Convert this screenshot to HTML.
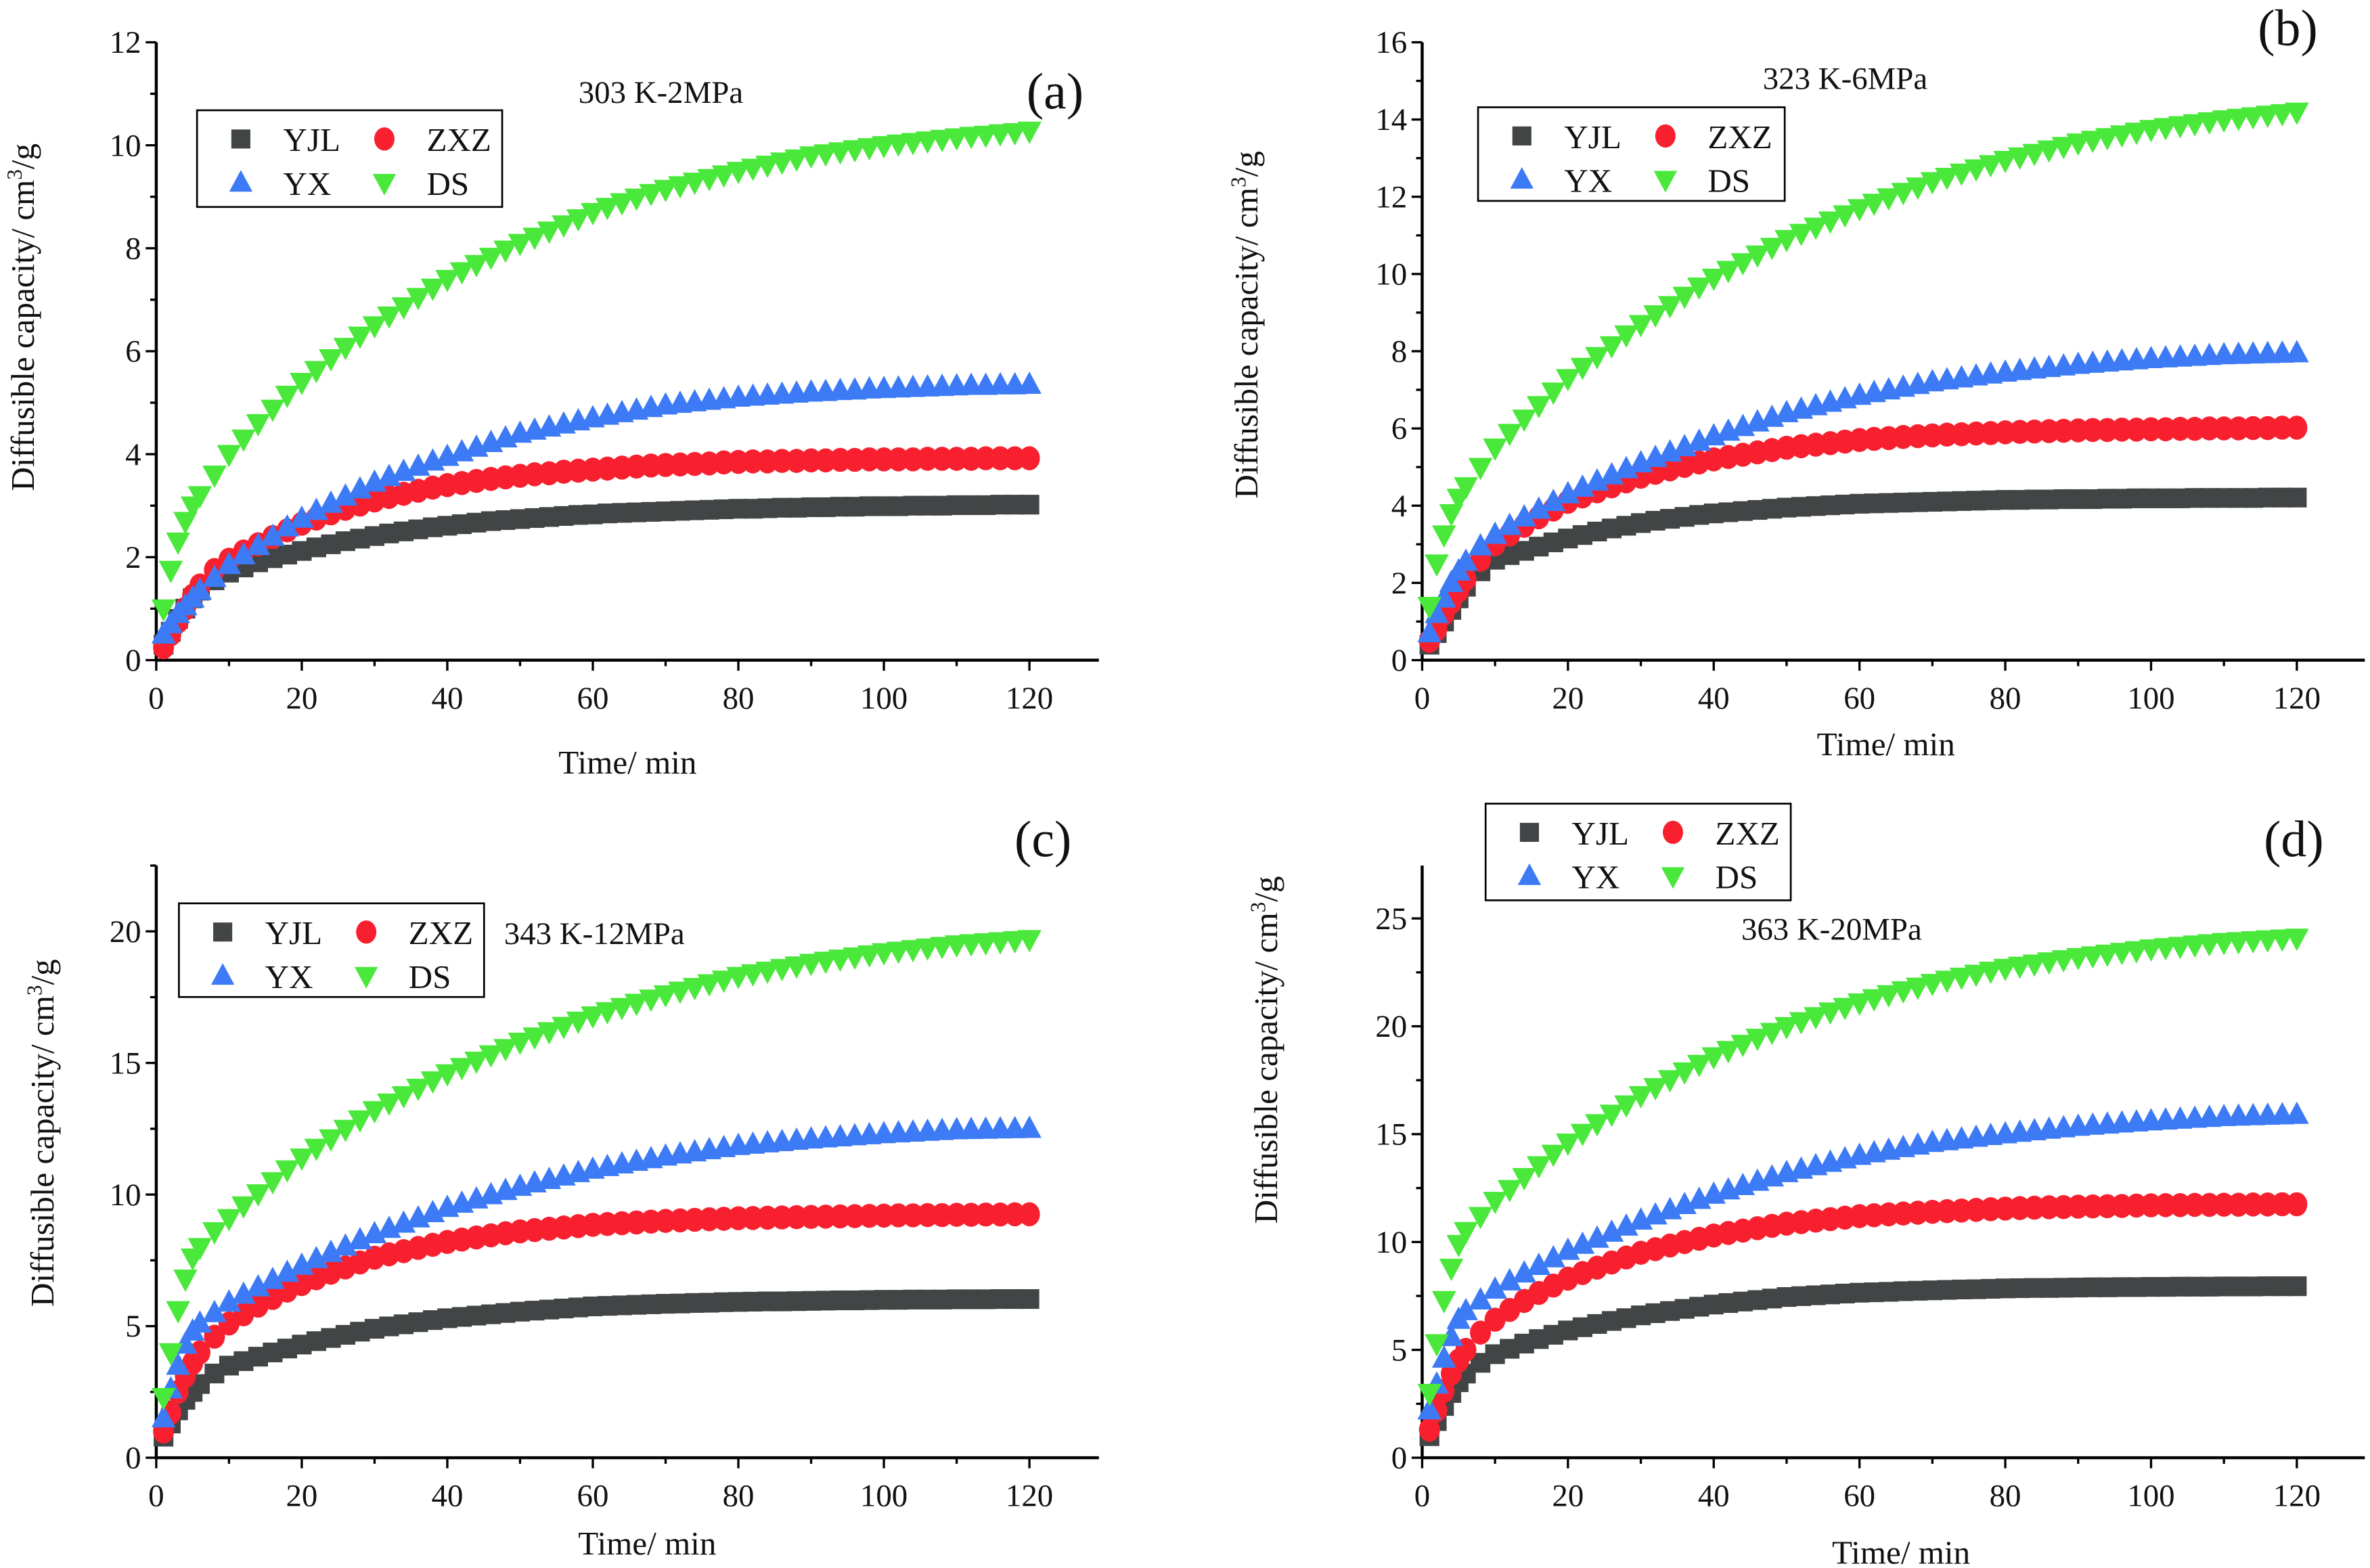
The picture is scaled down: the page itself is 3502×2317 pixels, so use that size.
<!DOCTYPE html>
<html><head><meta charset="utf-8"><style>
html,body{margin:0;padding:0;background:#fff}
svg{display:block}
text{font-family:"Liberation Serif",serif;fill:#111}
</style></head><body>
<svg id="fig" width="3502" height="2317" viewBox="0 0 1568 1038" xmlns="http://www.w3.org/2000/svg"></svg>
<script>
const times = [1,2,3,4,5,6,8,10,12,14,16,18,20,22,24,26,28,30,32,34,36,38,40,42,44,46,48,50,52,54,56,58,60,62,64,66,68,70,72,74,76,78,80,82,84,86,88,90,92,94,96,98,100,102,104,106,108,110,112,114,116,118,120];
const seriesNames = ["YJL","ZXZ","YX","DS"];
const xTicks = [0,20,40,60,80,100,120];

const aYJL = [0.3,0.55,0.8,1.0,1.2,1.35,1.55,1.7,1.8,1.9,1.98,2.05,2.12,2.19,2.25,2.31,2.36,2.41,2.46,2.5,2.54,2.58,2.61,2.64,2.67,2.7,2.72,2.74,2.76,2.78,2.8,2.82,2.83,2.85,2.86,2.87,2.88,2.89,2.9,2.91,2.92,2.93,2.94,2.94,2.95,2.96,2.96,2.97,2.97,2.98,2.98,2.99,2.99,2.99,3.0,3.0,3.0,3.01,3.01,3.01,3.02,3.02,3.02];
const aZXZ = [0.25,0.5,0.75,1.0,1.25,1.45,1.75,1.95,2.11,2.25,2.39,2.52,2.65,2.75,2.85,2.94,3.02,3.1,3.17,3.23,3.29,3.35,3.4,3.44,3.48,3.52,3.55,3.58,3.61,3.63,3.66,3.68,3.7,3.72,3.74,3.76,3.78,3.79,3.8,3.81,3.82,3.84,3.85,3.86,3.86,3.87,3.87,3.88,3.88,3.89,3.89,3.9,3.9,3.9,3.9,3.91,3.91,3.91,3.91,3.92,3.92,3.92,3.92];
const aYX = [0.5,0.7,0.9,1.05,1.2,1.35,1.6,1.85,2.04,2.22,2.4,2.58,2.75,2.9,3.04,3.18,3.32,3.45,3.56,3.66,3.76,3.86,3.95,4.04,4.13,4.22,4.31,4.4,4.46,4.52,4.58,4.64,4.7,4.75,4.8,4.85,4.9,4.95,4.98,5.01,5.04,5.07,5.1,5.12,5.14,5.16,5.18,5.2,5.21,5.23,5.24,5.26,5.27,5.28,5.29,5.3,5.31,5.32,5.33,5.33,5.34,5.34,5.35];
const aDS = [1.0,1.75,2.3,2.7,3.0,3.2,3.6,4.0,4.3,4.6,4.88,5.15,5.4,5.63,5.86,6.08,6.3,6.5,6.69,6.87,7.05,7.23,7.4,7.55,7.69,7.83,7.97,8.1,8.22,8.34,8.46,8.58,8.7,8.8,8.89,8.98,9.07,9.15,9.22,9.29,9.36,9.43,9.5,9.56,9.62,9.68,9.74,9.8,9.84,9.88,9.92,9.96,10.0,10.03,10.06,10.09,10.12,10.15,10.18,10.2,10.23,10.25,10.28];

const bYJL = [0.4,0.7,1.0,1.3,1.6,1.9,2.3,2.6,2.72,2.83,2.94,3.05,3.15,3.24,3.33,3.41,3.48,3.55,3.61,3.66,3.71,3.76,3.8,3.83,3.86,3.89,3.92,3.95,3.97,3.99,4.01,4.03,4.05,4.06,4.07,4.08,4.09,4.1,4.11,4.12,4.13,4.14,4.15,4.15,4.16,4.16,4.17,4.17,4.17,4.18,4.18,4.19,4.19,4.19,4.19,4.2,4.2,4.2,4.2,4.2,4.21,4.21,4.21];
const bZXZ = [0.5,0.8,1.2,1.5,1.8,2.1,2.6,3.0,3.25,3.48,3.7,3.9,4.1,4.24,4.37,4.5,4.63,4.75,4.85,4.94,5.03,5.12,5.2,5.26,5.32,5.38,5.44,5.5,5.54,5.58,5.62,5.66,5.7,5.73,5.75,5.78,5.8,5.82,5.84,5.85,5.87,5.88,5.9,5.91,5.92,5.93,5.94,5.95,5.96,5.96,5.97,5.97,5.98,5.98,5.99,5.99,6.0,6.0,6.0,6.01,6.01,6.02,6.02];
const bYX = [0.7,1.2,1.6,2.0,2.3,2.55,2.95,3.25,3.48,3.7,3.9,4.1,4.3,4.47,4.63,4.79,4.95,5.1,5.24,5.38,5.52,5.66,5.8,5.92,6.04,6.16,6.28,6.4,6.49,6.58,6.67,6.76,6.85,6.92,6.99,7.06,7.13,7.2,7.25,7.3,7.35,7.4,7.45,7.49,7.53,7.57,7.61,7.65,7.68,7.71,7.74,7.77,7.8,7.82,7.84,7.86,7.88,7.9,7.91,7.92,7.93,7.94,7.95];
const bDS = [1.4,2.5,3.25,3.8,4.2,4.5,5.0,5.5,5.88,6.25,6.6,6.95,7.3,7.59,7.87,8.15,8.43,8.7,8.95,9.19,9.43,9.67,9.9,10.1,10.3,10.5,10.7,10.9,11.06,11.22,11.38,11.54,11.7,11.84,11.98,12.12,12.26,12.4,12.51,12.62,12.73,12.84,12.95,13.04,13.13,13.22,13.31,13.4,13.47,13.54,13.61,13.68,13.75,13.8,13.85,13.9,13.95,14.0,14.04,14.08,14.12,14.16,14.2];

const cYJL = [0.8,1.3,1.8,2.2,2.5,2.8,3.2,3.5,3.67,3.84,4.0,4.15,4.3,4.43,4.55,4.67,4.79,4.9,4.99,5.07,5.15,5.23,5.3,5.35,5.4,5.45,5.5,5.55,5.59,5.63,5.67,5.71,5.75,5.77,5.79,5.81,5.83,5.85,5.86,5.88,5.89,5.91,5.92,5.93,5.94,5.94,5.95,5.96,5.97,5.98,5.98,5.99,6.0,6.0,6.01,6.01,6.01,6.02,6.02,6.02,6.03,6.03,6.03];
const cZXZ = [1.0,1.7,2.5,3.1,3.6,4.0,4.6,5.1,5.45,5.78,6.07,6.35,6.6,6.82,7.03,7.23,7.42,7.6,7.73,7.85,7.97,8.09,8.2,8.29,8.37,8.45,8.53,8.6,8.65,8.7,8.75,8.8,8.85,8.88,8.91,8.94,8.97,9.0,9.02,9.04,9.06,9.08,9.1,9.11,9.12,9.13,9.14,9.15,9.16,9.17,9.18,9.19,9.2,9.21,9.21,9.22,9.22,9.23,9.23,9.24,9.24,9.25,9.25];
const cYX = [1.5,2.6,3.5,4.3,4.8,5.1,5.5,5.9,6.2,6.48,6.76,7.03,7.3,7.55,7.79,8.03,8.27,8.5,8.7,8.9,9.1,9.3,9.5,9.66,9.82,9.98,10.14,10.3,10.43,10.56,10.69,10.82,10.95,11.05,11.15,11.25,11.35,11.45,11.53,11.61,11.69,11.77,11.85,11.9,11.95,12.0,12.05,12.1,12.14,12.18,12.22,12.26,12.3,12.33,12.36,12.39,12.42,12.45,12.46,12.47,12.48,12.49,12.5];
const cDS = [2.3,4.0,5.6,6.8,7.6,8.0,8.6,9.1,9.58,10.04,10.5,10.95,11.4,11.77,12.13,12.49,12.85,13.2,13.49,13.77,14.05,14.33,14.6,14.84,15.08,15.32,15.56,15.8,16.0,16.2,16.4,16.6,16.8,16.96,17.12,17.28,17.44,17.6,17.74,17.88,18.02,18.16,18.3,18.4,18.5,18.6,18.7,18.8,18.88,18.96,19.04,19.12,19.2,19.26,19.32,19.38,19.44,19.5,19.54,19.58,19.62,19.66,19.7];

const dYJL = [1.0,1.7,2.4,3.0,3.5,3.9,4.4,4.8,5.05,5.29,5.5,5.7,5.9,6.05,6.2,6.34,6.47,6.6,6.7,6.8,6.9,7.0,7.1,7.17,7.24,7.31,7.38,7.45,7.49,7.53,7.57,7.61,7.65,7.67,7.69,7.72,7.74,7.76,7.78,7.8,7.81,7.83,7.85,7.86,7.87,7.87,7.88,7.89,7.9,7.9,7.91,7.91,7.92,7.92,7.93,7.93,7.93,7.94,7.94,7.94,7.95,7.95,7.95];
const dZXZ = [1.3,2.2,3.1,3.9,4.5,5.0,5.8,6.4,6.85,7.27,7.64,7.98,8.3,8.56,8.81,9.05,9.28,9.5,9.67,9.84,10.0,10.15,10.3,10.42,10.53,10.64,10.75,10.85,10.92,10.99,11.06,11.13,11.2,11.24,11.28,11.32,11.36,11.4,11.43,11.46,11.49,11.52,11.55,11.57,11.59,11.61,11.62,11.64,11.65,11.66,11.67,11.69,11.7,11.71,11.71,11.72,11.72,11.73,11.73,11.74,11.74,11.75,11.75];
const dYX = [2.2,3.4,4.6,5.6,6.4,6.8,7.3,7.8,8.18,8.55,8.9,9.25,9.6,9.88,10.16,10.44,10.72,11.0,11.24,11.48,11.72,11.96,12.2,12.4,12.6,12.8,13.0,13.2,13.36,13.52,13.68,13.84,14.0,14.12,14.24,14.36,14.48,14.6,14.68,14.76,14.84,14.92,15.0,15.07,15.14,15.21,15.28,15.35,15.4,15.45,15.5,15.55,15.6,15.64,15.68,15.72,15.76,15.8,15.82,15.84,15.86,15.88,15.9];
const dDS = [3.0,5.3,7.3,8.8,9.9,10.5,11.2,11.9,12.45,13.0,13.55,14.08,14.6,15.05,15.5,15.94,16.37,16.8,17.17,17.54,17.9,18.25,18.6,18.89,19.18,19.46,19.73,20.0,20.23,20.46,20.68,20.89,21.1,21.29,21.48,21.66,21.83,22.0,22.15,22.29,22.43,22.57,22.7,22.8,22.9,23.0,23.1,23.2,23.28,23.36,23.44,23.52,23.6,23.66,23.72,23.78,23.84,23.9,23.94,23.98,24.02,24.06,24.1];

const aYTicks = [0,2,4,6,8,10,12];
const bYTicks = [0,2,4,6,8,10,12,14,16];
const cYTicks = [0,5,10,15,20];
const dYTicks = [0,5,10,15,20,25];

const colors = {YJL:"#424545", ZXZ:"#f8202f", YX:"#3d7af5", DS:"#49e83a"};
const NS = "http://www.w3.org/2000/svg";
const svg = document.getElementById('fig');
function mk(tag, attrs, parent){const e=document.createElementNS(NS,tag);for(const k in attrs)e.setAttribute(k,attrs[k]);(parent||svg).appendChild(e);return e;}

function marker(g, name, x, y, s){
  const c = colors[name];
  let e;
  if(name==="YJL") e = mk('rect',{x:x-s*0.45,y:y-s*0.45,width:s*0.9,height:s*0.9,fill:c},g);
  else if(name==="ZXZ") e = mk('ellipse',{cx:x,cy:y,rx:s*0.48,ry:s*0.55,fill:c},g);
  else if(name==="YX") e = mk('polygon',{points:`${x},${y-s*0.6} ${x-s*0.55},${y+s*0.42} ${x+s*0.55},${y+s*0.42}`,fill:c},g);
  else e = mk('polygon',{points:`${x},${y+s*0.6} ${x-s*0.55},${y-s*0.42} ${x+s*0.55},${y-s*0.42}`,fill:c},g);
  return e;
}

const panels = [
 {id:"a", data:[aYJL,aZXZ,aYX,aDS], yTicks:aYTicks, yMax:12, yMinor:1, x0:103, x120:681, xEnd:727, y0:437, yTop:28,
  cond:"303 K-2MPa", condX:437, condY:68, tag:"(a)", tagX:698, tagY:72, xtX:415, xtY:512, ytX:22, ytY:210,
  leg:[130,73,202,64]},
 {id:"b", data:[bYJL,bZXZ,bYX,bDS], yTicks:bYTicks, yMax:16, yMinor:1, x0:941, x120:1520, xEnd:1565, y0:437, yTop:28,
  cond:"323 K-6MPa", condX:1221, condY:59, tag:"(b)", tagX:1514, tagY:30, xtX:1248, xtY:500, ytX:832, ytY:215,
  leg:[978,71,203,62]},
 {id:"c", data:[cYJL,cZXZ,cYX,cDS], yTicks:cYTicks, yMax:22.5, yMinor:2.5, x0:103, x120:681, xEnd:727, y0:965, yTop:573,
  cond:"343 K-12MPa", condX:393, condY:625, tag:"(c)", tagX:690, tagY:567, xtX:428, xtY:1029, ytX:35, ytY:750,
  leg:[118,598,202,62]},
 {id:"d", data:[dYJL,dZXZ,dYX,dDS], yTicks:dYTicks, yMax:27.45, yMinor:2.5, x0:941, x120:1520, xEnd:1565, y0:965, yTop:573,
  cond:"363 K-20MPa", condX:1212, condY:622, tag:"(d)", tagX:1518, tagY:567, xtX:1258, xtY:1035, ytX:845, ytY:695,
  leg:[983,532,202,64]}
];

panels.forEach(p=>{
  const g = mk('g',{});
  
  
  const X = v => p.x0 + (p.x120-p.x0)*v/120;
  const Y = v => p.y0 - (p.y0-p.yTop)*v/p.yMax;
  const xa = mk('line',{x1:p.x0,y1:p.y0,x2:p.xEnd,y2:p.y0,stroke:"#000","stroke-width":2},g);
  
  
  const ya = mk('line',{x1:p.x0,y1:p.y0,x2:p.x0,y2:p.yTop,stroke:"#000","stroke-width":2},g);
  
  
  for(let v=0; X(v)<=p.xEnd+0.5; v+=10){
    const major = v%20===0;
    mk('line',{x1:X(v),y1:p.y0,x2:X(v),y2:p.y0+(major?7:4),stroke:"#000","stroke-width":1.5},g);
  }
  xTicks.forEach(v=>{
    const t = mk('text',{x:X(v),y:p.y0+32,"font-size":21,"text-anchor":"middle"},g);
    t.textContent = v;
    
    
  });
  for(let v=0; v<=p.yMax+1e-6; v+=p.yMinor){
    const major = p.yTicks.some(t=>Math.abs(t-v)<1e-6);
    mk('line',{x1:p.x0,y1:Y(v),x2:p.x0-(major?7:4),y2:Y(v),stroke:"#000","stroke-width":1.5},g);
  }
  p.yTicks.forEach(v=>{
    const t = mk('text',{x:p.x0-10,y:Y(v)+7,"font-size":21,"text-anchor":"end"},g);
    t.textContent = v;
    
    
  });
  const xt = mk('text',{x:p.xtX,y:p.xtY,"font-size":22,"text-anchor":"middle"},g);
  xt.textContent = "Time/ min";
  
  
  const yt = mk('text',{x:0,y:0,"font-size":22,"text-anchor":"middle",transform:`translate(${p.ytX},${p.ytY}) rotate(-90)`},g);
  yt.innerHTML = 'Diffusible capacity/ cm<tspan dy="-8" font-size="14">3</tspan><tspan dy="8">/g</tspan>';
  
  
  const ct = mk('text',{x:p.condX,y:p.condY,"font-size":21,"text-anchor":"middle"},g);
  ct.textContent = p.cond;
  
  
  const tg = mk('text',{x:p.tagX,y:p.tagY,"font-size":34,"text-anchor":"middle"},g);
  tg.textContent = p.tag;
  
  
  seriesNames.forEach((name,si)=>{
    const sg = mk('g',{},g);
    
    
    p.data[si].forEach((v,i)=>{
      const m = marker(sg, name, X(times[i]), Y(v), 14.5);
      
      
    });
  });
  const [lx,ly,lw,lh] = p.leg;
  const lg = mk('g',{},g);
  
  
  mk('rect',{x:lx,y:ly,width:lw,height:lh,fill:"#fff",stroke:"#000","stroke-width":1.2},lg);
  const pos = [[lx+29,ly+19],[lx+124,ly+19],[lx+29,ly+48],[lx+124,ly+48]];
  seriesNames.forEach((name,si)=>{
    const e = mk('g',{},lg);
    
    
    marker(e, name, pos[si][0], pos[si][1], 14);
    const t = mk('text',{x:pos[si][0]+28,y:pos[si][1]+8,"font-size":22},e);
    t.textContent = name;
  });
});
</script>
</body></html>
